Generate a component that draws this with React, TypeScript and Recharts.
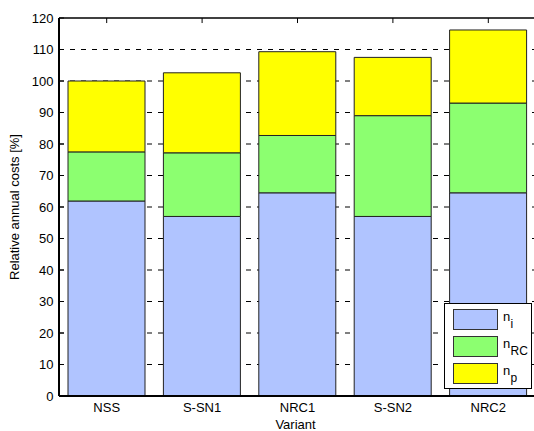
import React from 'react';
import { BarChart, Bar, XAxis, YAxis, CartesianGrid, Legend, Label, ReferenceLine } from 'recharts';

const categories = ['NSS', 'S-SN1', 'NRC1', 'S-SN2', 'NRC2'];
const niValues = [61.9, 57.0, 64.5, 57.0, 64.5];
const nrcValues = [15.6, 20.2, 18.2, 32.0, 28.5];
const npValues = [22.5, 25.4, 26.6, 18.5, 23.2];
const yTicks = [0, 10, 20, 30, 40, 50, 60, 70, 80, 90, 100, 110, 120];
const gridValues = yTicks.filter(v => v > 0 && v < 120);
const Y_MAX = 120;
const TOP_TICK_LEN = 1.6; // in data units, ~5px

const seriesNames = ['ni', 'nRC', 'np'];
const seriesSubs = ['i', 'RC', 'p'];
const COLORS = ['#b0c4ff', '#8cff70', '#ffff00'];

const data = categories.map((name, i) => ({
  name,
  ni: niValues[i],
  nRC: nrcValues[i],
  np: npValues[i],
}));

const FONT = 'Arial, "Liberation Sans", sans-serif';

function LegendBox({ payload }: any) {
  const seen = new Set<string>();
  const items = [...(payload || [])]
    .filter((p: any) => p.type !== 'none' && seriesNames.includes(p.dataKey))
    .filter((p: any) => (seen.has(p.dataKey) ? false : (seen.add(p.dataKey), true)))
    .sort((a: any, b: any) => seriesNames.indexOf(a.dataKey) - seriesNames.indexOf(b.dataKey));
  return (
    <div style={{ border: '1px solid #000', background: '#fff', width: 86, height: 79, paddingTop: 5, boxSizing: 'content-box', fontFamily: FONT, color: '#000' }}>
      {items.map((p: any) => {
        const idx = seriesNames.indexOf(p.dataKey);
        return (
          <div key={p.dataKey} style={{ position: 'relative', height: 27, marginLeft: 8 }}>
            <div style={{ position: 'absolute', left: 0, top: 0, width: 43, height: 19, background: COLORS[idx], border: '1px solid #333' }} />
            <span style={{ position: 'absolute', left: 50, top: 1, fontSize: 13, lineHeight: '13px' }}>n</span>
            <span style={{ position: 'absolute', left: 57.5, top: 8.5, fontSize: 12, lineHeight: '12px' }}>{seriesSubs[idx]}</span>
          </div>
        );
      })}
    </div>
  );
}

export default function App() {
  return (
    <div style={{ position: 'absolute', left: 0, top: 0, width: 534, height: 431, overflow: 'hidden', background: '#fff' }}>
      <BarChart
        width={540}
        height={431}
        data={data}
        margin={{ top: 18, right: 4, bottom: 0, left: 0 }}
        barSize={77}
        style={{ fontFamily: FONT }}
      >
        <CartesianGrid vertical={false} horizontalValues={gridValues} stroke="#000" strokeDasharray="5 6" />
        <XAxis
          dataKey="name"
          height={35}
          axisLine={{ stroke: '#000', strokeWidth: 2 }}
          tickLine={false}
          tickSize={0}
          tickMargin={7}
          tick={{ fill: '#000', fontSize: 13 }}
          label={
            <Label
              content={(props: any) => {
                const vb = props.viewBox;
                return (
                  <text x={vb.x + vb.width / 2 - 2} y={vb.y + 33} textAnchor="middle" fontSize={13} fill="#000">
                    Variant
                  </text>
                );
              }}
            />
          }
        />
        <YAxis
          width={59}
          domain={[0, Y_MAX]}
          ticks={yTicks}
          interval={0}
          axisLine={{ stroke: '#000', strokeWidth: 2 }}
          tickLine={{ stroke: '#000' }}
          tickSize={-5}
          tickMargin={10.5}
          tick={{ fill: '#000', fontSize: 13 }}
          label={
            <Label
              content={(props: any) => {
                const vb = props.viewBox;
                const cx = vb.x + 14;
                const cy = vb.y + vb.height / 2;
                return (
                  <text x={cx} y={cy} transform={`rotate(-90 ${cx} ${cy})`} textAnchor="middle" dominantBaseline="central" fontSize={13} fill="#000">
                    Relative annual costs [%]
                  </text>
                );
              }}
            />
          }
        />
        <Legend
          layout="vertical"
          align="center"
          verticalAlign="middle"
          wrapperStyle={{ left: 444, top: 303, width: 88, height: 86 }}
          content={<LegendBox />}
        />
        {seriesNames.map((key, i) => (
          <Bar key={key} dataKey={key} stackId="a" fill={COLORS[i]} stroke="#222" strokeWidth={1} isAnimationActive={false} />
        ))}
        {/* box top edge and its inward ticks */}
        <ReferenceLine y={Y_MAX} stroke="#000" strokeWidth={1.5} ifOverflow="visible" />
        {categories.map(c => (
          <ReferenceLine
            key={c}
            segment={[{ x: c, y: Y_MAX }, { x: c, y: Y_MAX - TOP_TICK_LEN }]}
            stroke="#000"
            strokeWidth={1}
            ifOverflow="visible"
          />
        ))}
      </BarChart>
    </div>
  );
}
